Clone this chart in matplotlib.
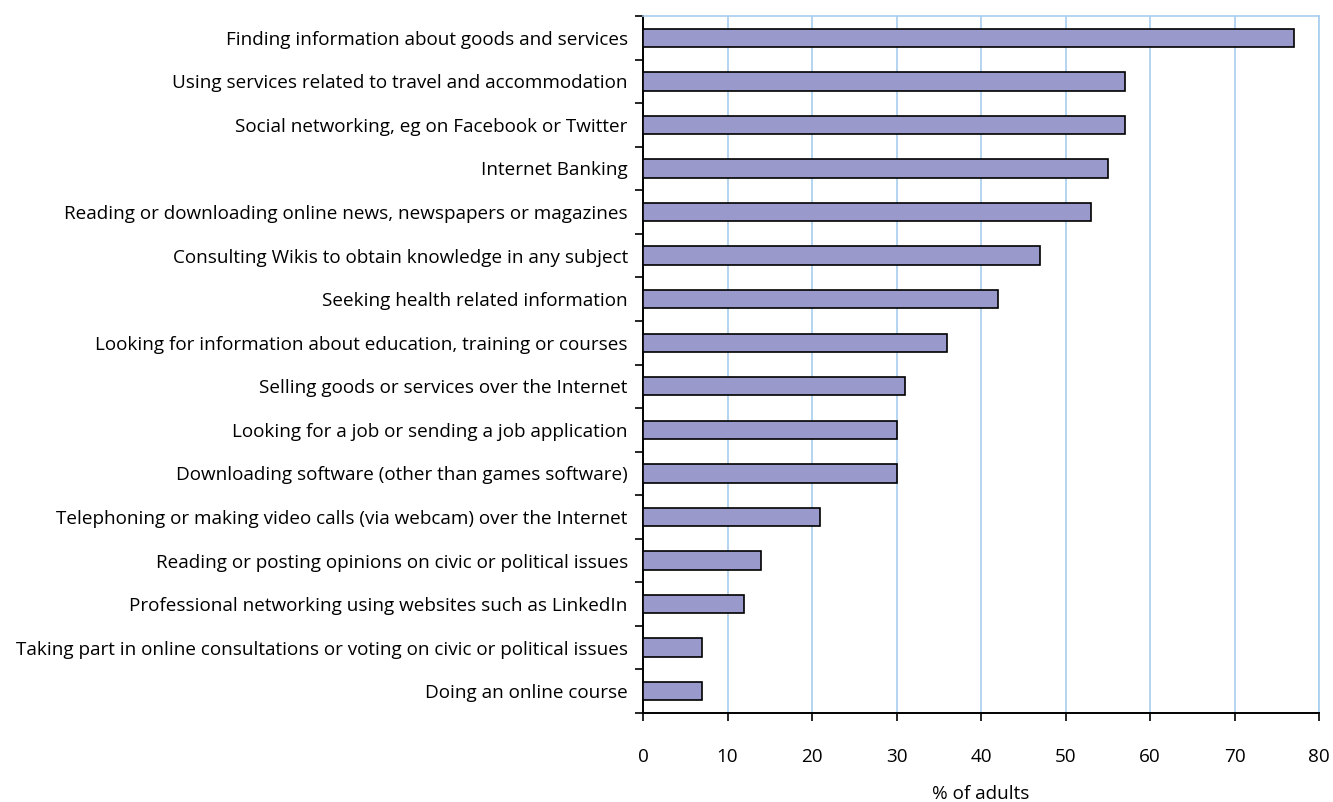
import numpy as np
import matplotlib.pyplot as plt

plt.rcParams['font.family'] = ['Open Sans', 'DejaVu Sans']

activities = [
    "Finding information about goods and services",
    "Using services related to travel and accommodation",
    "Social networking, eg on Facebook or Twitter",
    "Internet Banking",
    "Reading or downloading online news, newspapers or magazines",
    "Consulting Wikis to obtain knowledge in any subject",
    "Seeking health related information",
    "Looking for information about education, training or courses",
    "Selling goods or services over the Internet",
    "Looking for a job or sending a job application",
    "Downloading software (other than games software)",
    "Telephoning or making video calls (via webcam) over the Internet",
    "Reading or posting opinions on civic or political issues",
    "Professional networking using websites such as LinkedIn",
    "Taking part in online consultations or voting on civic or political issues",
    "Doing an online course",
]
pct_adults = [77, 57, 57, 55, 53, 47, 42, 36, 31, 30, 30, 21, 14, 12, 7, 7]
x_ticks = [0, 10, 20, 30, 40, 50, 60, 70, 80]

fig = plt.figure(figsize=(13.33, 8.02), dpi=100)
ax = fig.add_axes([0.4824, 0.111, 0.5071, 0.869])

n = len(activities)
ypos = np.arange(n)
ax.barh(ypos, pct_adults, height=0.42, color='#9999cc', edgecolor='black',
        linewidth=1.2, zorder=3)

ax.set_ylim(n - 0.5, -0.5)
ax.set_xlim(0, 80)
ax.set_yticks(ypos)
ax.set_yticklabels(activities, fontsize=13.6)
# boundary ticks between categories on the left axis
ax.set_yticks(np.arange(n + 1) - 0.5, minor=True)
ax.tick_params(axis='y', which='major', length=0, pad=11)
ax.tick_params(axis='y', which='minor', length=6, width=1.2, direction='out')

ax.set_xticks(x_ticks)
ax.tick_params(axis='x', length=6, width=1.2, direction='out', labelsize=13.6, pad=19)
ax.set_xlabel('% of adults', fontsize=13.6, labelpad=14)

ax.grid(axis='x', color='#a8cdee', linewidth=1.2, zorder=0)
ax.set_axisbelow(True)

for side in ['top', 'right']:
    ax.spines[side].set_color('#a8cdee')
    ax.spines[side].set_linewidth(1.2)
for side in ['left', 'bottom']:
    ax.spines[side].set_color('black')
    ax.spines[side].set_linewidth(1.4)

fig.savefig('out.png', dpi=100)
